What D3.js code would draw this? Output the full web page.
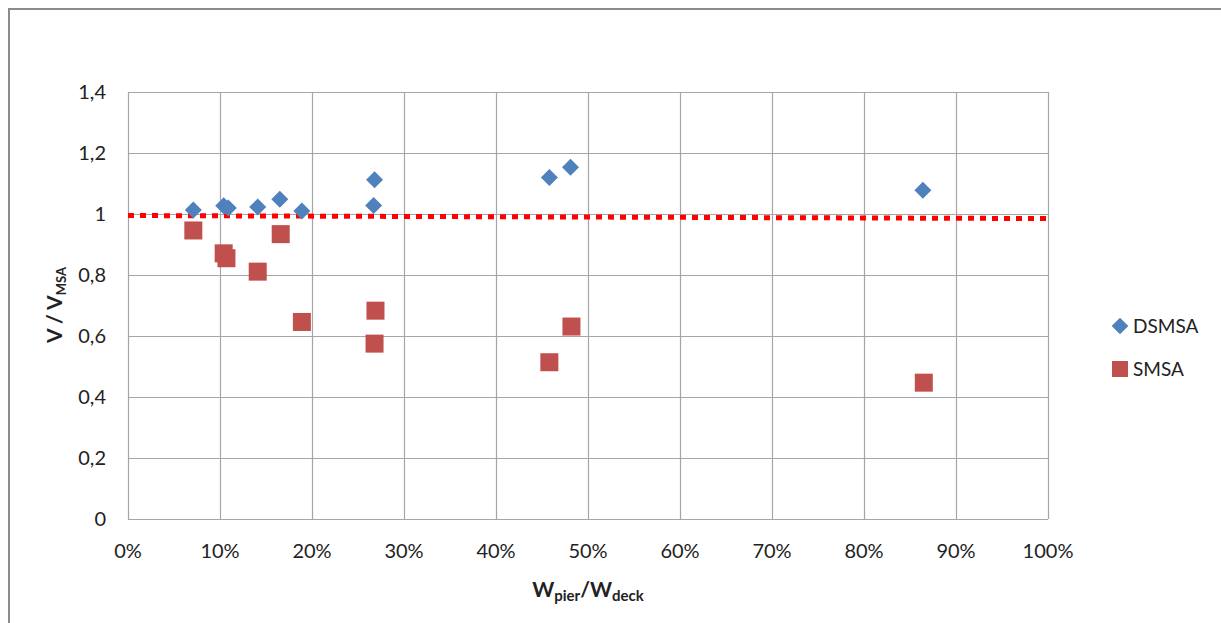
<!DOCTYPE html>
<html><head><meta charset="utf-8">
<script src="https://cdn.jsdelivr.net/npm/d3@7"></script>
<style>body{margin:0;background:#fff;} svg{display:block;font-family:Lato,"Open Sans",sans-serif;}</style>
</head><body>
<svg id="c" width="1221" height="623"></svg>
<script>
const dsmsaX = [0.071, 0.104, 0.109, 0.141, 0.165, 0.189, 0.268, 0.267, 0.458, 0.481, 0.864];
const dsmsaY = [1.013, 1.027, 1.020, 1.023, 1.048, 1.010, 1.112, 1.028, 1.120, 1.153, 1.078];
const smsaX = [0.071, 0.104, 0.107, 0.141, 0.166, 0.189, 0.269, 0.268, 0.458, 0.482, 0.865];
const smsaY = [0.946, 0.871, 0.855, 0.811, 0.934, 0.646, 0.683, 0.575, 0.514, 0.631, 0.447];
const refLineX = [0, 1];
const refLineY = [0.995, 0.985];
const xTicks = [0,0.1,0.2,0.3,0.4,0.5,0.6,0.7,0.8,0.9,1];
const yTicks = [0,0.2,0.4,0.6,0.8,1,1.2,1.4];
const seriesNames = ["DSMSA","SMSA"];

const svg = d3.select("#c");
const L=128, R=1048, T=92, B=519;
const x = d3.scaleLinear().domain([0,1]).range([L,R]);
const y = d3.scaleLinear().domain([0,1.4]).range([B,T]);
const grid="#a6a6a6";

svg.append("rect").attr("x",9).attr("y",9).attr("width",1230).attr("height",700)
  .attr("fill","none").attr("stroke","#8c8c8c").attr("stroke-width",2);

// grid
const g = svg.append("g");
g.selectAll(".vx").data(xTicks).join("line")
  .attr("x1",d=>Math.round(x(d))+0.5).attr("x2",d=>Math.round(x(d))+0.5)
  .attr("y1",T).attr("y2",B).attr("stroke",grid).attr("stroke-width",1.2);
g.selectAll(".hy").data(yTicks).join("line")
  .attr("y1",d=>Math.round(y(d))+0.5).attr("y2",d=>Math.round(y(d))+0.5)
  .attr("x1",L).attr("x2",R).attr("stroke",grid).attr("stroke-width",1.2);

// tick labels
const fmtY = d3.format(".1f");
svg.selectAll(".yl").data(yTicks).join("text")
  .attr("x",106).attr("y",d=>y(d)+7).attr("text-anchor","end")
  .attr("font-size",20).attr("fill","#222")
  .text(d=> d===0||d===1 ? String(d) : fmtY(d).replace(".",","));
svg.selectAll(".xl").data(xTicks).join("text")
  .attr("x",d=>x(d)).attr("y",558).attr("text-anchor","middle")
  .attr("font-size",20).attr("fill","#222")
  .text(d=>Math.round(d*100)+"%");

// reference dotted line
svg.append("line")
  .attr("x1",x(refLineX[0])).attr("y1",y(refLineY[0]))
  .attr("x2",x(refLineX[1])).attr("y2",y(refLineY[1]))
  .attr("stroke","#ff0000").attr("stroke-width",5).attr("stroke-dasharray","6,6");

// DSMSA diamonds
const diamond = d3.symbol().type(d3.symbolSquare).size(145);
svg.selectAll(".ds").data(dsmsaX.map((v,i)=>[v,dsmsaY[i]])).join("path")
  .attr("d",diamond).attr("transform",d=>`translate(${x(d[0])},${y(d[1])}) rotate(45)`)
  .attr("fill","#4f81bd");

// SMSA squares
const sq=18;
svg.selectAll(".sm").data(smsaX.map((v,i)=>[v,smsaY[i]])).join("rect")
  .attr("x",d=>x(d[0])-sq/2).attr("y",d=>y(d[1])-sq/2).attr("width",sq).attr("height",sq)
  .attr("fill","#c0504d");

// legend
svg.append("path").attr("d",d3.symbol().type(d3.symbolSquare).size(140))
  .attr("transform","translate(1120,326) rotate(45)").attr("fill","#4f81bd");
svg.append("rect").attr("x",1112).attr("y",361).attr("width",16).attr("height",16).attr("fill","#c0504d");
svg.append("text").attr("x",1133).attr("y",333).attr("font-size",19).attr("fill","#222").text(seriesNames[0]);
svg.append("text").attr("x",1133).attr("y",376).attr("font-size",19).attr("fill","#222").text(seriesNames[1]);

// x axis title
const xt = svg.append("text").attr("x",588).attr("y",597).attr("text-anchor","middle")
  .attr("font-size",21).attr("font-weight","bold").attr("fill","#222");
xt.append("tspan").text("W");
xt.append("tspan").attr("font-size",15).attr("dy",4).text("pier");
xt.append("tspan").attr("dy",-4).text("/W");
xt.append("tspan").attr("font-size",15).attr("dy",4).text("deck");

// y axis title
const yt = svg.append("text").attr("transform","translate(62,305) rotate(-90)").attr("text-anchor","middle")
  .attr("font-size",21).attr("font-weight","bold").attr("fill","#222");
yt.append("tspan").text("V / V");
yt.append("tspan").attr("font-size",13).attr("dy",4).text("MSA");
</script>
</body></html>
